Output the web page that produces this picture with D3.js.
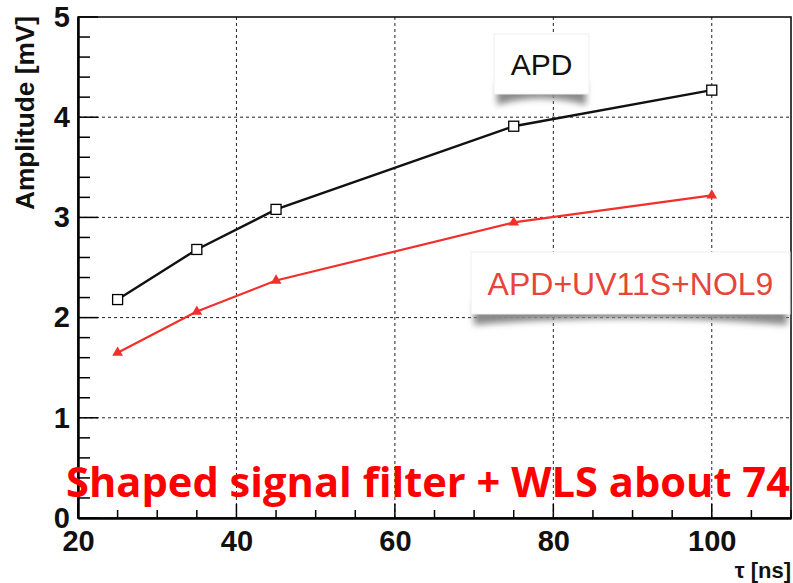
<!DOCTYPE html>
<html><head><meta charset="utf-8">
<script src="https://cdn.jsdelivr.net/npm/d3@7"></script>
<style>body{margin:0;background:#fff}svg{display:block}</style>
</head><body>
<svg id="c" width="793" height="583"></svg>
<script>
const tau = [25, 35, 45, 75, 100];
const apd = [2.18, 2.68, 3.08, 3.91, 4.27];
const apdWls = [1.65, 2.06, 2.37, 2.95, 3.22];
const xTicks = [20, 40, 60, 80, 100];
const yTicks = [0, 1, 2, 3, 4, 5];
const seriesNames = ["APD", "APD+UV11S+NOL9"];
const note = "Shaped signal filter + WLS about 74";

const svg = d3.select("#c");
const L = 78, R = 791, T = 17, B = 518;
const x = d3.scaleLinear().domain([20, 110]).range([L, R]);
const y = d3.scaleLinear().domain([0, 5]).range([B, T]);
const FONT = "Liberation Sans, Arial, sans-serif";

const defs = svg.append("defs");
const f = defs.append("filter").attr("id","sh").attr("x","-20%").attr("y","-50%").attr("width","140%").attr("height","200%");
f.append("feGaussianBlur").attr("stdDeviation", 3);

// grid
const g = svg.append("g");
g.selectAll(".gx").data(xTicks.filter(d => d > 20)).join("line")
  .attr("x1", d => x(d)).attr("x2", d => x(d)).attr("y1", T).attr("y2", B)
  .attr("stroke", "#222").attr("stroke-width", 1).attr("stroke-dasharray", "3,3");
g.selectAll(".gy").data(yTicks.filter(d => d > 0 && d < 5)).join("line")
  .attr("y1", d => y(d)).attr("y2", d => y(d)).attr("x1", L).attr("x2", R)
  .attr("stroke", "#222").attr("stroke-width", 1).attr("stroke-dasharray", "3,3");

// frame
svg.append("rect").attr("x", L).attr("y", T).attr("width", R - L).attr("height", B - T)
  .attr("fill", "none").attr("stroke", "#000").attr("stroke-width", 1.5);

// axes
const xAxis = d3.axisBottom(x).tickValues(xTicks).tickFormat(d3.format("d")).tickSize(0).tickPadding(12);
const xa = svg.append("g").attr("transform", `translate(0,${B})`).call(xAxis);
xa.select(".domain").attr("stroke-width", 2.5);
xa.selectAll("text").attr("font-family", FONT).attr("font-weight", "bold").attr("font-size", 29).attr("fill", "#111");
const xMinor = d3.range(20, 111, 5);
svg.append("g").selectAll("line").data(xMinor).join("line")
  .attr("x1", d => x(d)).attr("x2", d => x(d)).attr("y1", B).attr("y2", d => B - (d % 20 === 0 ? 14 : 8))
  .attr("stroke", "#000").attr("stroke-width", 1.5);

const yAxis = d3.axisLeft(y).tickValues(yTicks).tickFormat(d3.format("d")).tickSize(0).tickPadding(8);
const ya = svg.append("g").attr("transform", `translate(${L},0)`).call(yAxis);
ya.select(".domain").attr("stroke-width", 2.5);
ya.selectAll("text").attr("font-family", FONT).attr("font-weight", "bold").attr("font-size", 29).attr("fill", "#111");
const yMinor = d3.range(0, 5.001, 0.2);
svg.append("g").selectAll("line").data(yMinor).join("line")
  .attr("y1", d => y(d)).attr("y2", d => y(d)).attr("x1", L).attr("x2", (d, i) => L + (i % 5 === 0 ? 20 : 12))
  .attr("stroke", "#000").attr("stroke-width", 1.5);

// axis titles
svg.append("text").attr("transform", `translate(34,113) rotate(-90)`).attr("text-anchor", "middle")
  .attr("textLength", 194).attr("lengthAdjust", "spacingAndGlyphs")
  .attr("font-family", FONT).attr("font-weight", "bold").attr("font-size", 25).attr("fill", "#111")
  .text("Amplitude [mV]");
svg.append("text").attr("x", 791).attr("y", 578).attr("text-anchor", "end")
  .attr("font-family", FONT).attr("font-weight", "bold").attr("font-size", 22).attr("fill", "#111")
  .text("τ [ns]");

// series
const pts1 = tau.map((t, i) => [t, apd[i]]);
const pts2 = tau.map((t, i) => [t, apdWls[i]]);
const line = d3.line().x(d => x(d[0])).y(d => y(d[1]));
svg.append("path").datum(pts1).attr("fill", "none").attr("stroke", "#111").attr("stroke-width", 2.4).attr("d", line);
svg.append("path").datum(pts2).attr("fill", "none").attr("stroke", "#f0302a").attr("stroke-width", 2.2).attr("d", line);
svg.append("g").selectAll("rect").data(pts1).join("rect")
  .attr("x", d => x(d[0]) - 5).attr("y", d => y(d[1]) - 5).attr("width", 10).attr("height", 10)
  .attr("fill", "#fff").attr("stroke", "#000").attr("stroke-width", 1.3);
svg.append("g").selectAll("path").data(pts2).join("path")
  .attr("transform", d => `translate(${x(d[0])},${y(d[1])})`)
  .attr("d", d3.symbol(d3.symbolTriangle, 50)).attr("fill", "#f0302a");

// legend boxes with curled shadows
function box(x0, y0, w, h, label, color, fs) {
  const gg = svg.append("g");
  gg.append("path")
    .attr("d", `M${x0+3},${y0+h-12} L${x0+3},${y0+h+11} Q${x0+w/2},${y0+h-2} ${x0+w-3},${y0+h+11} L${x0+w-3},${y0+h-12} Z`)
    .attr("fill", "#8a8a8a").attr("filter", "url(#sh)");
  gg.append("rect").attr("x", x0).attr("y", y0).attr("width", w).attr("height", h).attr("fill", "#fff")
    .attr("stroke", "#f0f0f0").attr("stroke-width", 1);
  gg.append("text").attr("x", x0 + w / 2).attr("y", y0 + h / 2 + fs * 0.36).attr("text-anchor", "middle")
    .attr("font-family", FONT).attr("font-size", fs).attr("fill", color).text(label);
}
box(494, 34, 95, 60, seriesNames[0], "#111", 30);
box(471, 252, 319, 62, seriesNames[1], "#e8443a", 32);

// note
svg.append("text").attr("x", 66).attr("y", 497).attr("textLength", 724).attr("lengthAdjust", "spacingAndGlyphs")
  .attr("font-family", "Open Sans, sans-serif").attr("font-weight", "bold").attr("font-size", 41).attr("fill", "#ff0000")
  .text(note);
</script>
</body></html>
